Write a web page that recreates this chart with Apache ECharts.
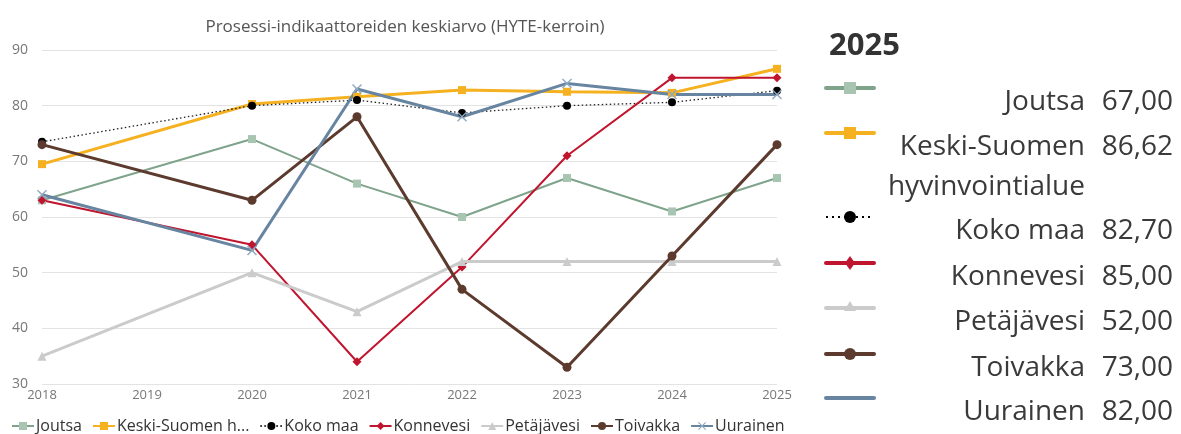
<!DOCTYPE html>
<html>
<head>
<meta charset="utf-8">
<script src="https://cdn.jsdelivr.net/npm/echarts@6/dist/echarts.min.js"></script>
<style>
  html, body { margin: 0; padding: 0; background: #fff; }
  #chart { width: 1181px; height: 434px; }
</style>
</head>
<body>
<div id="chart"></div>
<script>
// vuodet (2019 puuttuu)
const years = [2018, 2020, 2021, 2022, 2023, 2024, 2025];

const seriesNames = ['Joutsa', 'Keski-Suomen hyvinvointialue', 'Koko maa', 'Konnevesi', 'Petäjävesi', 'Toivakka', 'Uurainen'];

const joutsa = [63, 74, 66, 60, 67, 61, 67];
const keskiSuomi = [69.5, 80.3, 81.6, 82.8, 82.5, 82.3, 86.62];
const kokoMaa = [73.5, 80, 81, 78.7, 80, 80.6, 82.7];
const konnevesi = [63, 55, 34, 51, 71, 85, 85];
const petajavesi = [35, 50, 43, 52, 52, 52, 52];
const toivakka = [73, 63, 78, 47, 33, 53, 73];
const uurainen = [64, 54, 83, 78, 84, 82, 82];

const panelYear = '2025';

const allValues = [joutsa, keskiSuomi, kokoMaa, konnevesi, petajavesi, toivakka, uurainen];

// tyylit
const styles = [
    {color: '#7FA38B', marker: '#A8C5B1', symbol: 'rect', size: 8, width: 2},
    {color: '#F5B120', marker: '#F5B120', symbol: 'rect', size: 8, width: 3},
    {color: '#222222', marker: '#000000', symbol: 'circle', size: 8, width: 1.3, dotted: true},
    {color: '#C0152F', marker: '#C0152F', symbol: 'diamond', size: 9, width: 2},
    {color: '#CBCBCB', marker: '#CBCBCB', symbol: 'triangle', size: 9, width: 3},
    {color: '#5C3B2E', marker: '#5C3B2E', symbol: 'circle', size: 9, width: 3},
    {color: '#6785A0', marker: '#8FA9C2', symbol: 'path://M0,1L1,0L5,4L9,0L10,1L6,5L10,9L9,10L5,6L1,10L0,9L4,5Z', size: 10, width: 3}
];

let chart = echarts.init(document.getElementById('chart'));

let series = seriesNames.map(function (name, i) {
    let st = styles[i];
    return {
        name: name,
        type: 'line',
        data: years.map(function (y, j) { return [y, allValues[i][j]]; }),
        symbol: st.symbol,
        symbolSize: st.size,
        showSymbol: true,
        lineStyle: {
            color: st.color,
            width: st.width,
            type: st.dotted ? [1.5, 2.5] : 'solid'
        },
        itemStyle: {color: st.marker, borderWidth: 0},
        emphasis: {disabled: true},
        animation: false
    };
});

// oikean reunan paneeli
function fmt(v) {
    return v.toFixed(2).replace('.', ',');
}

const panelFont = '28px "Open Sans"';
let graphics = [];
graphics.push({
    type: 'text', left: 829, top: 31,
    style: {text: panelYear, font: 'bold 31px "Open Sans"', fill: '#333'}
});

let iconY = [88, 133, 217, 263, 308, 354, 398];
seriesNames.forEach(function (name, i) {
    let st = styles[i];
    let y = iconY[i];
    graphics.push({
        type: 'line',
        shape: {x1: 826, y1: y, x2: 874, y2: y},
        style: {
            stroke: st.dotted ? '#000' : st.color,
            lineWidth: st.dotted ? 2 : 4,
            lineDash: st.dotted ? [2, 4] : null,
            lineCap: st.dotted ? 'butt' : 'round'
        }
    });
    let mk = null;
    if (st.symbol === 'rect') {
        mk = {type: 'rect', shape: {x: 844, y: y - 6, width: 12, height: 12}, style: {fill: st.marker}};
    } else if (st.symbol === 'circle') {
        mk = {type: 'circle', shape: {cx: 850, cy: y, r: 6}, style: {fill: st.marker}};
    } else if (st.symbol === 'diamond') {
        mk = {type: 'polygon', shape: {points: [[850, y - 7], [855, y], [850, y + 7], [845, y]]}, style: {fill: st.marker}};
    } else if (st.symbol === 'triangle') {
        mk = {type: 'polygon', shape: {points: [[850, y - 7], [856, y + 3], [844, y + 3]]}, style: {fill: st.marker}};
    }
    if (mk) graphics.push(mk);

    // pitkä nimi kahdelle riville
    let label = name;
    let extra = null;
    if (name.length > 20) {
        label = name.split(' ')[0];
        extra = name.split(' ').slice(1).join(' ');
    }
    let ty = y + 14;
    graphics.push({
        type: 'text', x: 1085, y: ty,
        style: {text: label, font: panelFont, fill: '#3a3a3a', align: 'right', verticalAlign: 'middle'}
    });
    graphics.push({
        type: 'text', x: 1173, y: ty,
        style: {text: fmt(allValues[i][allValues[i].length - 1]), font: panelFont, fill: '#3a3a3a', align: 'right', verticalAlign: 'middle'}
    });
    if (extra) {
        graphics.push({
            type: 'text', x: 1085, y: ty + 40,
            style: {text: extra, font: panelFont, fill: '#3a3a3a', align: 'right', verticalAlign: 'middle'}
        });
    }
});

let option = {
    backgroundColor: '#fff',
    animation: false,
    title: {
        text: 'Prosessi-indikaattoreiden keskiarvo (HYTE-kerroin)',
        left: 400,
        top: 14,
        textAlign: 'center',
        textStyle: {fontFamily: 'Open Sans', fontSize: 17, fontWeight: 'normal', color: '#555'}
    },
    legend: {
        left: 6,
        top: 413,
        itemWidth: 22,
        itemHeight: 10,
        itemGap: 10,
        data: seriesNames,
        formatter: function (name) {
            return name.length > 14 ? name.slice(0, 14) + '...' : name;
        },
        textStyle: {fontFamily: 'Open Sans', fontSize: 16, color: '#333', padding: [0, 0, 0, -3]}
    },
    grid: {left: 42, right: 404, top: 50, bottom: 50},
    xAxis: {
        type: 'value',
        min: 2018,
        max: 2025,
        interval: 1,
        axisLine: {show: false},
        axisTick: {show: false},
        splitLine: {show: false},
        axisLabel: {
            margin: 5,
            fontFamily: 'Open Sans',
            fontSize: 13,
            color: '#777',
            formatter: function (v) { return String(v); }
        }
    },
    yAxis: {
        type: 'value',
        min: 30,
        max: 90,
        interval: 10,
        axisLine: {show: false},
        axisTick: {show: false},
        splitLine: {lineStyle: {color: '#e3e3e3', width: 1}},
        axisLabel: {margin: 14, fontFamily: 'Open Sans', fontSize: 14, color: '#777'}
    },
    graphic: graphics,
    series: series
};

chart.setOption(option);
</script>
</body>
</html>
